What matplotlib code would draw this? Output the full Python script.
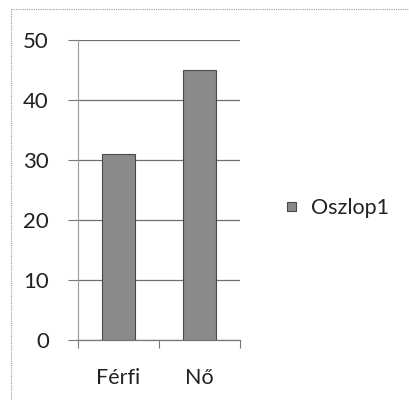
"""
Oszlop1 bar chart: Férfi / Nő
"""
import matplotlib
matplotlib.use("Agg")
import matplotlib.pyplot as plt
from matplotlib.lines import Line2D

categories = ["Férfi", "Nő"]
values = [31, 45]
series_name = "Oszlop1"
y_ticks = [0, 10, 20, 30, 40, 50]

plt.rcParams['font.family'] = ['Lato', 'DejaVu Sans']

W, H = 409, 403
fig = plt.figure(figsize=(W / 100, H / 100), dpi=100)
ax = fig.add_axes([78 / W, 1 - 340 / H, 162 / W, 300 / H])

x = range(len(categories))
ax.bar(x, values, width=0.4, color="#8a8a8a", edgecolor="#4a4a4a",
       linewidth=0.8, label=series_name, zorder=3)

ax.set_xlim(-0.5, len(categories) - 0.5)
ax.set_ylim(0, 50)
ax.set_yticks(y_ticks)
ax.yaxis.grid(True, color="#707070", linewidth=0.9)
ax.set_axisbelow(True)

ax.set_xticks(list(x))
ax.set_xticklabels(categories)
ax.set_xticks([i - 0.5 for i in range(len(categories) + 1)], minor=True)
ax.tick_params(axis="x", which="major", length=0, pad=20, labelsize=15.5,
               colors="#222222")
ax.tick_params(axis="x", which="minor", length=6, width=0.8, color="#777777")
ax.tick_params(axis="y", length=7, width=0.8, color="#777777", pad=14,
               labelsize=16, labelcolor="#222222")

for side in ("top", "right"):
    ax.spines[side].set_visible(False)
ax.spines["left"].set_color("#999999")
ax.spines["left"].set_linewidth(0.8)
ax.spines["bottom"].set_color("#777777")
ax.spines["bottom"].set_linewidth(0.9)

# small square handle: handlelength ~ 0.65*handleheight + 0.245
ax.legend(loc="center left", bbox_to_anchor=(268 / W, 1 - 208 / H),
          bbox_transform=fig.transFigure, frameon=False, fontsize=15.5,
          handlelength=0.4, handleheight=0.25, handletextpad=0.7,
          labelcolor="#222222")

# outer chart frame (only top and left edges visible)
fig.add_artist(Line2D([11 / W, 408 / W], [1 - 9 / H, 1 - 9 / H],
                      color="#9a9a9a", linewidth=0.8, linestyle=(0, (1, 1))))
fig.add_artist(Line2D([11 / W, 11 / W], [1 - 9 / H, 1 - 400 / H],
                      color="#9a9a9a", linewidth=0.8, linestyle=(0, (1, 1))))

fig.savefig("out.png", dpi=100)
